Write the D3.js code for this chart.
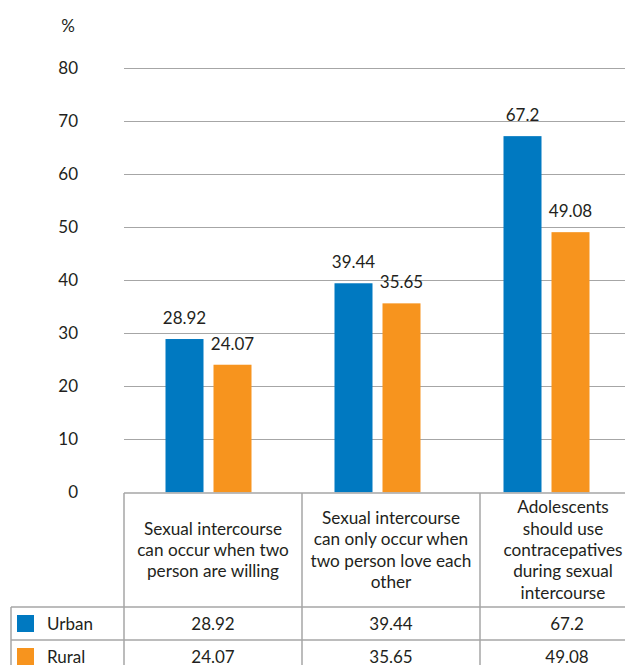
<!DOCTYPE html>
<html><head><meta charset="utf-8">
<script src="https://cdn.jsdelivr.net/npm/d3@7"></script>
<style>
body{margin:0;background:#fff;}
svg{display:block;font-family:Lato, "Noto Sans", sans-serif;}
</style></head>
<body><div id="chart"></div>
<script>
const categories = [
  ["Sexual intercourse","can occur when two","person are willing"],
  ["Sexual intercourse","can only occur when","two person love each","other"],
  ["Adolescents","should use","contracepatives","during sexual","intercourse"]
];
const seriesNames = ["Urban","Rural"];
const urban = [28.92, 39.44, 67.2];
const rural = [24.07, 35.65, 49.08];
const urbanLabels = ["28.92","39.44","67.2"];
const ruralLabels = ["24.07","35.65","49.08"];
const yTicks = [0,10,20,30,40,50,60,70,80];
const colors = {Urban:"#0079C1", Rural:"#F7941E"};

const W=625,H=665;
const svg=d3.select("#chart").append("svg").attr("width",W).attr("height",H);
const textColor="#231F20";
const gridColor="#A6A6A6";

const y=d3.scaleLinear().domain([0,80]).range([492.3,68.3]);
const idx=d3.range(categories.length);
const x0=d3.scaleBand().domain(idx).range([124,631]).padding(0);
const groupW=86;
const x1=d3.scaleBand().domain(seriesNames).range([0,groupW]).paddingInner(10/48).paddingOuter(0);

svg.append("g").selectAll("line").data(yTicks.filter(d=>d>0)).join("line")
  .attr("x1",124).attr("x2",W).attr("y1",d=>Math.round(y(d))+0.5).attr("y2",d=>Math.round(y(d))+0.5)
  .attr("stroke",gridColor).attr("stroke-width",1);

svg.append("g").selectAll("text").data(yTicks).join("text")
  .attr("x",78).attr("y",d=>y(d)+6).attr("text-anchor","end")
  .attr("font-size",17).attr("fill",textColor).text(d=>d);
svg.append("text").attr("x",68).attr("y",32).attr("text-anchor","middle")
  .attr("font-size",17).attr("fill",textColor).text("%");

const data = idx.map(i=>({i, vals:[{s:"Urban",v:urban[i],l:urbanLabels[i]},{s:"Rural",v:rural[i],l:ruralLabels[i]}]}));
const off=(x0.bandwidth()-groupW)/2;
const g=svg.append("g").selectAll("g").data(data).join("g")
  .attr("transform",d=>`translate(${x0(d.i)+off},0)`);
g.selectAll("rect").data(d=>d.vals).join("rect")
  .attr("x",d=>x1(d.s)).attr("width",x1.bandwidth())
  .attr("y",d=>y(d.v)).attr("height",d=>y(0)-y(d.v)).attr("fill",d=>colors[d.s]);
g.selectAll("text").data(d=>d.vals).join("text")
  .attr("x",d=>x1(d.s)+x1.bandwidth()/2).attr("y",d=>y(d.v)-15)
  .attr("text-anchor","middle").attr("font-size",17).attr("fill",textColor).text(d=>d.l);

const colW=178, tLeft=124, rowLabelLeft=11;
const tTop=493, hdrBot=607, rowH=33;
const colX=i=>tLeft+i*colW;
const tbl=svg.append("g").attr("stroke",gridColor).attr("stroke-width",1.5).attr("fill","none");
tbl.append("line").attr("x1",tLeft).attr("x2",W).attr("y1",tTop).attr("y2",tTop);
[hdrBot, hdrBot+rowH, hdrBot+2*rowH].forEach(yy=>tbl.append("line").attr("x1",rowLabelLeft).attr("x2",W).attr("y1",yy).attr("y2",yy));
d3.range(categories.length+1).forEach(i=>tbl.append("line").attr("x1",colX(i)).attr("x2",colX(i)).attr("y1",tTop).attr("y2",H));
tbl.append("line").attr("x1",rowLabelLeft).attr("x2",rowLabelLeft).attr("y1",hdrBot).attr("y2",H);

const lh=21.3, hc=(tTop+hdrBot)/2;
categories.forEach((lines,i)=>{
  const t=svg.append("text").attr("text-anchor","middle").attr("font-size",17.2).attr("fill",textColor);
  const start=hc-(lines.length-1)*lh/2;
  lines.forEach((ln,k)=>t.append("tspan").attr("x",colX(i)+colW/2 - (i===2?6:0)).attr("y",start+k*lh+6).text(ln));
});

const rows=[{name:"Urban",labels:urbanLabels},{name:"Rural",labels:ruralLabels}];
rows.forEach((r,ri)=>{
  const top=hdrBot+ri*rowH;
  svg.append("rect").attr("x",17).attr("y",top+8).attr("width",17).attr("height",17).attr("fill",colors[r.name]);
  svg.append("text").attr("x",47).attr("y",top+23).attr("font-size",17).attr("fill",textColor).text(r.name);
  r.labels.forEach((l,i)=>svg.append("text").attr("x",colX(i)+colW/2 - (i===2?2:0)).attr("y",top+23)
    .attr("text-anchor","middle").attr("font-size",17).attr("fill",textColor).text(l));
});
</script></body></html>
